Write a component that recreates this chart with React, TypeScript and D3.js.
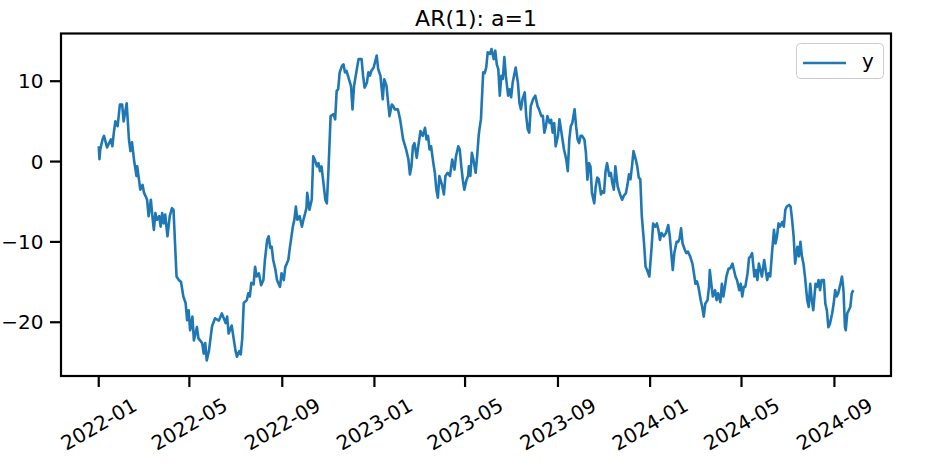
import React from "react";
import * as d3 from "d3";

const chartTitle = "AR(1): a=1";
const seriesName = "y";
const startDate = "2022-01-01";
const lastDay = 999;
const yTicks = [-20, -10, 0, 10];
const xTickLabels = ["2022-01", "2022-05", "2022-09", "2023-01", "2023-05", "2023-09", "2024-01", "2024-05", "2024-09"];

// [day offset from startDate, value]
const observations: [number, number][] = [
  [0, 1.9], [1, 0.3], [2, 1.5], [5, 2.75], [7, 3.2], [11, 1.75], [16, 2.75], [18, 1.9], [20, 3.6], [22, 5.0],
  [25, 4.4], [28, 7.1], [31, 7.1], [33, 5.0], [37, 7.25], [40, 2.75], [42, 1.3], [44, 2.4], [47, 0], [50, -1.8],
  [51, -0.6], [55, -3.5], [58, -2.9], [60, -3.9], [62, -4.3], [64, -4.75], [66, -6.8], [69, -4.75], [71, -6.8], [73, -8.5],
  [75, -6.4], [77, -7.25], [80, -6.8], [82, -8.1], [84, -6.4], [86, -7.7], [88, -6.6], [91, -9.3], [94, -6.8], [97, -5.8],
  [99, -6.0], [103, -14.3], [106, -14.75], [109, -15], [112, -16.8], [115, -17.6], [117, -19.75], [119, -18.5], [121, -21], [124, -19.3],
  [126, -22.25], [130, -20.6], [132, -22], [137, -22.6], [139, -23.9], [141, -22.6], [143, -24.75], [146, -23.5], [150, -20.5], [154, -19.5],
  [159, -19.8], [163, -18.9], [168, -20.1], [170, -19.3], [172, -21.4], [174, -20.9], [176, -20.4], [179, -22.25], [181, -23.5], [183, -24.3],
  [186, -23.6], [188, -24.0], [190, -22], [192, -17.6], [196, -17.25], [198, -16.4], [200, -16.8], [202, -15.1], [205, -15.3], [207, -13.1],
  [209, -14.3], [212, -13.9], [215, -15.4], [218, -14.75], [220, -12.25], [223, -9.75], [225, -9.3], [227, -10.75], [229, -10.6], [231, -12.25],
  [234, -13.5], [236, -14.75], [240, -15.6], [242, -13.9], [245, -14.75], [247, -13.1], [249, -12.7], [251, -12.25], [253, -10.75], [257, -8.1],
  [259, -7.25], [261, -5.6], [263, -7.25], [266, -6.8], [269, -8.1], [271, -7.25], [275, -5.8], [276, -3.9], [279, -6.0], [282, -4.75],
  [284, 0.66], [286, 0.25], [289, -0.6], [291, -0.2], [293, -1.2], [295, -0.6], [297, -2.25], [300, -4.75], [302, -5.2], [304, -1.4],
  [307, 5.66], [311, 5.9], [313, 5.25], [315, 8.8], [317, 9.0], [319, 11.1], [322, 11.9], [324, 12.1], [326, 11.1], [328, 11.3],
  [330, 10.66], [334, 9.4], [336, 6.5], [338, 9.4], [341, 11.1], [344, 12.75], [348, 12.75], [350, 10.66], [352, 9.2], [355, 9.8],
  [357, 11.1], [359, 10.7], [361, 11.3], [364, 11.7], [368, 13.2], [370, 11.5], [373, 10.66], [376, 7.75], [378, 10.25], [381, 9.4],
  [383, 7.5], [385, 5.66], [388, 7.1], [390, 6.9], [392, 6.5], [396, 6.5], [399, 5.25], [401, 4.0], [403, 2.75], [407, 1.5],
  [410, 0.25], [412, -1.6], [414, -0.6], [416, 1.9], [418, 2.3], [421, 0.46], [423, 1.9], [426, 3.8], [429, 3.2], [432, 4.2],
  [434, 2.75], [436, 3.2], [438, 1.5], [440, 1.9], [443, -0.2], [445, -1.4], [447, -3.5], [449, -4.5], [451, -1.8], [455, -3.1],
  [457, -4.1], [459, -1.8], [462, -1.4], [465, -1.8], [468, 0.25], [471, -1.0], [473, 0.66], [476, 1.9], [478, 1.5], [480, -0.6],
  [482, -2.25], [484, -3.5], [487, -2.25], [489, -1.8], [490, -0.6], [492, -1.8], [494, 1.1], [496, 0.25], [499, -1.4], [501, 0.66],
  [503, 3.2], [504, 4.0], [506, 5.25], [509, 11.1], [511, 11.0], [513, 11.7], [515, 13.6], [518, 13.4], [520, 14.0], [523, 12.75],
  [525, 13.8], [527, 12.1], [529, 11.5], [531, 8.2], [533, 10.66], [535, 10.3], [537, 13.0], [539, 10.66], [542, 8.2], [544, 9.0],
  [546, 8.0], [548, 9.8], [552, 11.7], [555, 9.8], [557, 7.3], [559, 6.5], [561, 7.75], [564, 8.6], [566, 5.66], [568, 4.0],
  [570, 3.6], [572, 6.9], [575, 7.75], [578, 8.2], [581, 6.9], [583, 6.5], [586, 5.66], [588, 5.7], [590, 3.6], [592, 4.4],
  [594, 5.66], [597, 4.8], [599, 5.2], [601, 3.6], [603, 4.8], [605, 1.9], [608, 3.2], [610, 5.25], [612, 4.0], [614, 2.75],
  [616, 1.5], [619, 0.25], [621, -1.2], [623, 2.75], [625, 4.4], [627, 4.8], [630, 6.5], [632, 4.4], [634, 2.75], [636, 2.3],
  [638, 3.2], [640, 3.2], [643, 2.75], [645, 1.1], [647, -2.25], [649, -0.2], [651, -0.6], [653, -3.9], [656, -5.2], [658, -3.1],
  [660, -2.0], [662, -2.2], [665, -4.1], [667, -3.7], [669, -3.9], [671, -1.2], [673, -0.2], [676, -1.8], [678, -1.4], [680, -2.7],
  [682, -3.5], [684, -0.6], [687, -3.1], [689, -3.7], [691, -4.3], [693, -4.75], [695, -4.3], [698, -3.9], [700, -2.9], [702, -1.6],
  [704, -2.2], [706, -0.6], [708, 1.3], [711, 0.25], [713, -0.6], [715, -2.0], [717, -2.2], [719, -6.8], [722, -10.2], [724, -13.1],
  [726, -13.5], [729, -14.3], [732, -10.6], [734, -7.7], [737, -8.1], [739, -7.7], [741, -8.5], [743, -9.75], [745, -8.9], [748, -9.3],
  [751, -8.9], [754, -7.9], [756, -9.3], [758, -11.4], [760, -13.5], [762, -11.4], [765, -10.0], [767, -10.0], [769, -9.6], [771, -8.3],
  [773, -10.2], [776, -11.0], [778, -11.4], [780, -11.2], [783, -11.8], [786, -12.7], [788, -13.9], [790, -15.2], [792, -14.9], [794, -15.6],
  [797, -17.25], [799, -18.1], [801, -19.3], [803, -17.7], [806, -17.25], [808, -15.6], [809, -13.5], [811, -15.2], [813, -16.8], [816, -16.0],
  [818, -17.25], [820, -16.4], [823, -17.5], [825, -15.2], [827, -16.8], [829, -15.6], [831, -14.3], [834, -13.3], [836, -13.3], [839, -12.7],
  [841, -13.5], [843, -14.3], [845, -14.75], [848, -16.0], [850, -15.2], [852, -16.8], [854, -15.6], [856, -15.6], [859, -13.9], [861, -12.0],
  [863, -11.8], [865, -11.4], [868, -14.3], [870, -13.5], [872, -14.75], [874, -12.7], [876, -13.5], [878, -14.3], [881, -12.25], [883, -13.5],
  [885, -14.75], [887, -13.9], [889, -14.3], [891, -11.8], [894, -8.5], [896, -10.2], [898, -9.3], [900, -7.7], [902, -8.1], [905, -7.5],
  [907, -8.1], [909, -6.0], [911, -5.6], [914, -5.4], [916, -5.6], [918, -7.25], [920, -9.3], [922, -12.7], [925, -10.6], [927, -11.8],
  [929, -10.0], [931, -11.8], [933, -12.7], [935, -14.3], [938, -17.25], [940, -18.1], [942, -15.2], [944, -17.25], [946, -18.5], [949, -15.2],
  [951, -15.6], [953, -14.75], [955, -16.0], [957, -14.75], [960, -14.75], [962, -17.7], [964, -18.5], [966, -20.6], [968, -20.2], [971, -18.9],
  [973, -17.7], [975, -16.0], [977, -16.8], [979, -16.4], [982, -15.2], [984, -14.3], [986, -16.0], [988, -20.6], [989, -21.0], [991, -18.9],
  [993, -18.5], [995, -18.1], [997, -16.4], [999, -16.0],
];

export default function App() {
  const W = 925;
  const H = 466;
  const left = 61;
  const right = 891;
  const top = 33.5;
  const bottom = 376;
  const font = "'DejaVu Sans', sans-serif";

  const start = d3.utcParse("%Y-%m-%d")(startDate) as Date;
  const pad = lastDay * 0.05;
  const x = d3
    .scaleUtc()
    .domain([d3.utcHour.offset(start, -pad * 24), d3.utcHour.offset(start, (lastDay + pad) * 24)])
    .range([left, right]);

  const yVals = observations.map((o) => o[1]);
  const yMin = d3.min(yVals) as number;
  const yMax = d3.max(yVals) as number;
  const yPad = (yMax - yMin) * 0.05;
  const y = d3.scaleLinear().domain([yMin - yPad, yMax + yPad]).range([bottom, top]);

  const line = d3
    .line<[number, number]>()
    .x((o) => x(d3.utcDay.offset(start, o[0])))
    .y((o) => y(o[1]));

  const parseMonth = d3.utcParse("%Y-%m");
  const fmt = d3.utcFormat("%Y-%m");
  const xTicks = xTickLabels.map((s) => parseMonth(s) as Date);

  const color = "#1f77b4";

  return (
    <svg
      width={W}
      height={H}
      style={{ position: "fixed", left: 0, top: 0, background: "#fff" }}
      fontFamily={font}
    >
      <rect x={0} y={0} width={W} height={H} fill="#fff" />
      <defs>
        <clipPath id="plotclip">
          <rect x={left} y={top} width={right - left} height={bottom - top} />
        </clipPath>
      </defs>

      <path
        d={line(observations) || ""}
        fill="none"
        stroke={color}
        strokeWidth={2.6}
        strokeLinejoin="round"
        clipPath="url(#plotclip)"
      />

      {/* spines */}
      <rect x={left} y={top} width={right - left} height={bottom - top} fill="none" stroke="#000" strokeWidth={2.2} />

      {/* y ticks */}
      {yTicks.map((t) => (
        <g key={"y" + t}>
          <line x1={left - 11} x2={left} y1={y(t)} y2={y(t)} stroke="#000" strokeWidth={2.2} />
          <text x={left - 17.5} y={y(t)} dy="0.36em" textAnchor="end" fontSize={20} fill="#000">
            {t < 0 ? "\u2212" + Math.abs(t) : String(t)}
          </text>
        </g>
      ))}

      {/* x ticks */}
      {xTicks.map((d) => {
        const px = x(d);
        const cy = 424;
        return (
          <g key={"x" + fmt(d)}>
            <line x1={px} x2={px} y1={bottom} y2={bottom + 11} stroke="#000" strokeWidth={2.2} />
            <text
              x={px}
              y={cy}
              dy="0.36em"
              textAnchor="middle"
              fontSize={20}
              fill="#000"
              transform={`rotate(-30 ${px} ${cy})`}
            >
              {fmt(d)}
            </text>
          </g>
        );
      })}

      {/* title */}
      <text x={(left + right) / 2} y={26} textAnchor="middle" fontSize={22} fill="#000">
        {chartTitle}
      </text>

      {/* legend */}
      <g>
        <rect x={796.5} y={43.5} width={87} height={35} rx={4} ry={4} fill="#fff" fillOpacity={0.8} stroke="#cccccc" strokeWidth={1} />
        <line x1={803} x2={846} y1={63} y2={63} stroke={color} strokeWidth={2.6} />
        <text x={862} y={67.5} fontSize={20} fill="#000">
          {seriesName}
        </text>
      </g>
    </svg>
  );
}
